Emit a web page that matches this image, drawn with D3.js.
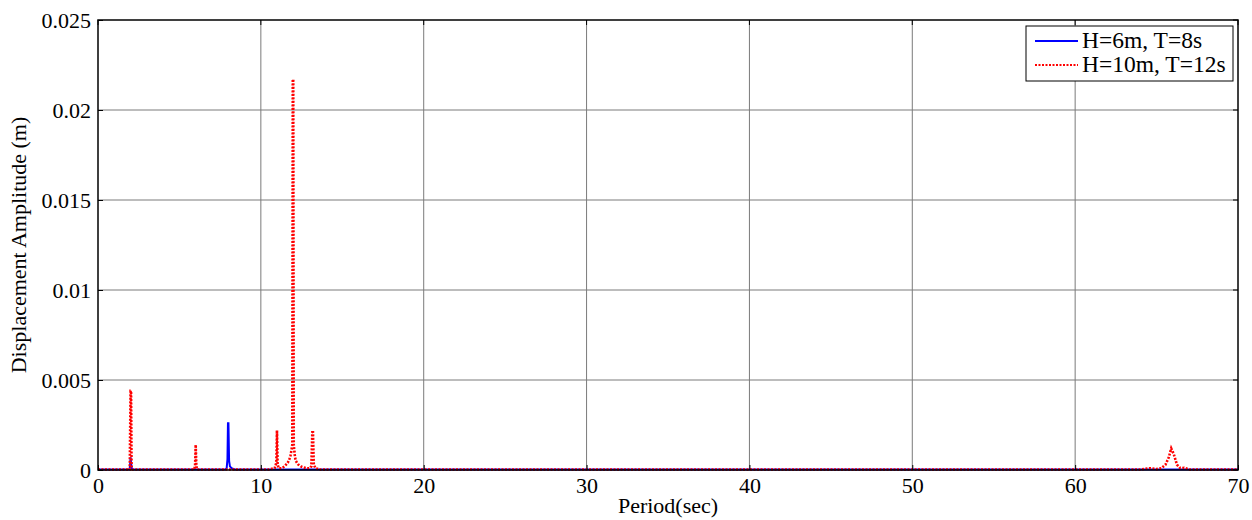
<!DOCTYPE html>
<html>
<head>
<meta charset="utf-8">
<script src="https://cdn.jsdelivr.net/npm/d3@7"></script>
<style>
  html, body { margin: 0; padding: 0; background: #fff; }
  svg { display: block; }
  text { font-family: "Liberation Serif", "DejaVu Serif", serif; fill: #000; }
</style>
</head>
<body>
<svg id="chart" width="1252" height="520"></svg>
<script>
// Response spectrum: displacement amplitude vs. period, two sea states
const xTicks = [0, 10, 20, 30, 40, 50, 60, 70];
const yTicks = [0, 0.005, 0.01, 0.015, 0.02, 0.025];
const yTickLabels = ["0", "0.005", "0.01", "0.015", "0.02", "0.025"];
const seriesNames = ["H=6m, T=8s", "H=10m, T=12s"];

// H=6m, T=8s
const bluePeriod = [0, 1.95, 2.0, 2.03, 2.07, 2.15, 7.8, 7.9, 7.95, 7.98, 8.01, 8.05, 8.1, 8.2, 8.4, 70];
const blueAmp    = [0.00003, 0.00003, 0.0007, 0.0004, 0.0001, 0.00003, 0.00003, 0.0001, 0.0006, 0.0026, 0.0026, 0.0005, 0.0002, 0.0001, 0.00003, 0.00003];

// H=10m, T=12s
const redPeriod = [0, 1.95, 2.0, 2.03, 2.06, 2.12, 5.9, 5.96, 6.0, 6.04, 6.1,
  10.5, 10.85, 10.95, 10.99, 11.03, 11.1, 11.3, 11.45, 11.55, 11.65, 11.75, 11.82, 11.88, 11.93,
  11.96, 11.99, 12.02, 12.06, 12.1, 12.15, 12.22, 12.3, 12.45, 12.6, 12.8, 13.0, 13.1, 13.16,
  13.2, 13.25, 13.35, 13.6, 64.0, 64.6, 65.0, 65.3, 65.55, 65.75, 65.9, 66.05, 66.25, 66.45, 66.7, 67.0, 70];
const redAmp = [0.00003, 0.00003, 0.0044, 0.0044, 0.0002, 0.00003, 0.00003, 0.0002, 0.0014, 0.0002, 0.00003,
  0.00003, 0.0001, 0.0004, 0.0022, 0.0003, 0.0001, 0.0001, 0.0002, 0.0003, 0.0004, 0.0006, 0.0008, 0.0011, 0.0014,
  0.0217, 0.0217, 0.0014, 0.001, 0.0007, 0.0005, 0.0004, 0.0003, 0.0002, 0.00015, 0.0001, 0.0001, 0.0002, 0.0021,
  0.0021, 0.0003, 0.0001, 0.00003, 0.00003, 0.0001, 0.00005, 0.0001, 0.0003, 0.0007, 0.0012, 0.0009, 0.0003, 0.0001, 0.00012, 0.00003, 0.00003];

const svg = d3.select("#chart");
const m = { left: 98, right: 1238, top: 20, bottom: 470 };

const x = d3.scaleLinear().domain([0, 70]).range([m.left, m.right]);
const y = d3.scaleLinear().domain([0, 0.025]).range([m.bottom, m.top]);

// grid
const grid = svg.append("g");
grid.selectAll("line.gx").data(xTicks.slice(1, -1)).join("line")
  .attr("x1", d => x(d)).attr("x2", d => x(d))
  .attr("y1", m.top).attr("y2", m.bottom)
  .attr("stroke", "#7a7a7a").attr("stroke-width", 1);
grid.selectAll("line.gy").data(yTicks.slice(1, -1)).join("line")
  .attr("y1", d => y(d)).attr("y2", d => y(d))
  .attr("x1", m.left).attr("x2", m.right)
  .attr("stroke", "#7a7a7a").attr("stroke-width", 1);

// series
const line = d3.line().x(d => x(d[0])).y(d => y(d[1]));
const blueData = d3.zip(bluePeriod, blueAmp);
const redData = d3.zip(redPeriod, redAmp);

svg.append("path").datum(blueData)
  .attr("d", line).attr("fill", "none")
  .attr("stroke", "#0000ff").attr("stroke-width", 2);

svg.append("path").datum(redData)
  .attr("d", line).attr("fill", "none")
  .attr("stroke", "#ff0000").attr("stroke-width", 2.6)
  .attr("stroke-dasharray", "2,1.5");

// axes
const xAxis = d3.axisBottom(x).tickValues(xTicks).tickSize(-5).tickPadding(7).tickFormat(d3.format("d"));
const yAxis = d3.axisLeft(y).tickValues(yTicks).tickSize(-5).tickPadding(7)
  .tickFormat((d, i) => yTickLabels[i]);

const gx = svg.append("g").attr("transform", `translate(0,${m.bottom})`).call(xAxis);
const gy = svg.append("g").attr("transform", `translate(${m.left},0)`).call(yAxis);
[gx, gy].forEach(g => {
  g.select(".domain").remove();
  g.selectAll(".tick line").attr("stroke", "#000").attr("stroke-width", 1);
  g.selectAll(".tick text").style("font-family", "Liberation Serif").style("font-size", "22px").attr("fill", "#000");
});

// top / right ticks
svg.append("g").selectAll("line").data(xTicks).join("line")
  .attr("x1", d => x(d)).attr("x2", d => x(d))
  .attr("y1", m.top).attr("y2", m.top + 5).attr("stroke", "#000");
svg.append("g").selectAll("line").data(yTicks).join("line")
  .attr("x1", m.right).attr("x2", m.right - 5)
  .attr("y1", d => y(d)).attr("y2", d => y(d)).attr("stroke", "#000");

// box
svg.append("rect")
  .attr("x", m.left).attr("y", m.top)
  .attr("width", m.right - m.left).attr("height", m.bottom - m.top)
  .attr("fill", "none").attr("stroke", "#000").attr("stroke-width", 1.5);

// axis titles
svg.append("text").attr("x", (m.left + m.right) / 2).attr("y", 513)
  .attr("text-anchor", "middle").style("font-size", "22px").text("Period(sec)");
svg.append("text").attr("transform", `translate(26,${(m.top + m.bottom) / 2}) rotate(-90)`)
  .attr("text-anchor", "middle").style("font-size", "22px").text("Displacement Amplitude (m)");

// legend
const lg = svg.append("g").attr("transform", "translate(1026,26)");
lg.append("rect").attr("width", 207).attr("height", 55)
  .attr("fill", "#fff").attr("stroke", "#000").attr("stroke-width", 1);
const styles = [
  { stroke: "#0000ff", width: 2, dash: null },
  { stroke: "#ff0000", width: 2, dash: "2,1.5" }
];
seriesNames.forEach((name, i) => {
  const row = lg.append("g").attr("transform", `translate(0,${15 + i * 24})`);
  row.append("line").attr("x1", 9).attr("x2", 52).attr("y1", 0).attr("y2", 0)
    .attr("stroke", styles[i].stroke).attr("stroke-width", styles[i].width)
    .attr("stroke-dasharray", styles[i].dash);
  row.append("text").attr("x", 56).attr("y", 7).style("font-size", "23.5px").text(name);
});
</script>
</body>
</html>
